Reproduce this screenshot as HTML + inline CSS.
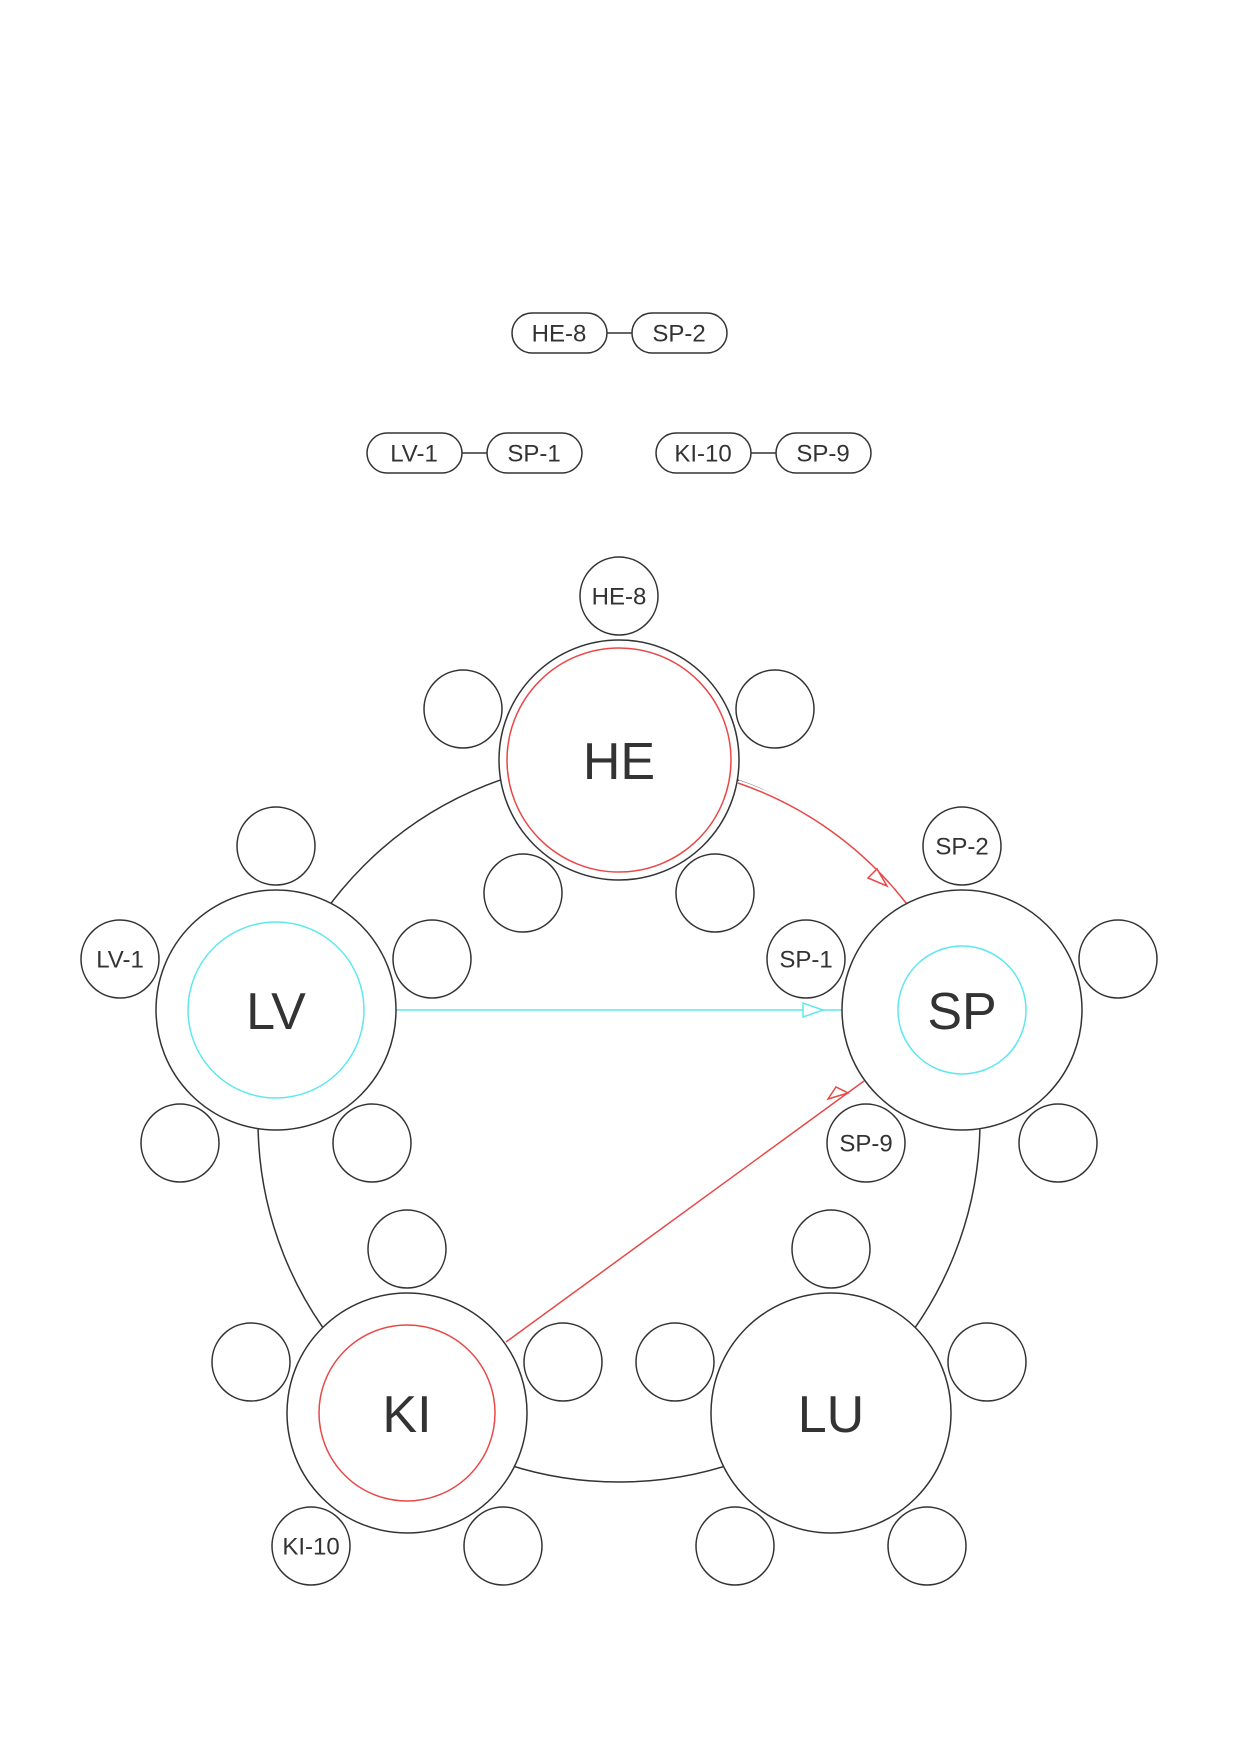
<!DOCTYPE html>
<html><head><meta charset="utf-8"><style>
html,body{margin:0;padding:0;background:#fff;}
svg{display:block;}
text{font-family:"Liberation Sans",Arial,sans-serif;fill:#333;text-anchor:middle;dominant-baseline:central;}
.s{font-size:24px;}
.b{font-size:52px;}
</style></head><body>
<svg width="1240" height="1754" viewBox="0 0 1240 1754" xmlns="http://www.w3.org/2000/svg">
<g fill="none" stroke="#333" stroke-width="1.5">
<circle cx="619" cy="1121" r="361"/>
<line x1="607" y1="333" x2="632" y2="333"/>
<line x1="462" y1="453" x2="487" y2="453"/>
<line x1="751" y1="453" x2="776" y2="453"/>
</g>
<g fill="#fff" stroke="#333" stroke-width="1.5">
<rect x="512" y="313" width="95" height="40" rx="20"/>
<rect x="632" y="313" width="95" height="40" rx="20"/>
<rect x="367" y="433" width="95" height="40" rx="20"/>
<rect x="487" y="433" width="95" height="40" rx="20"/>
<rect x="656" y="433" width="95" height="40" rx="20"/>
<rect x="776" y="433" width="95" height="40" rx="20"/>
</g>
<text class="s" x="559" y="334">HE-8</text>
<text class="s" x="679" y="334">SP-2</text>
<text class="s" x="414" y="454">LV-1</text>
<text class="s" x="534" y="454">SP-1</text>
<text class="s" x="703" y="454">KI-10</text>
<text class="s" x="823" y="454">SP-9</text>

<!-- red arc HE -> SP -->
<path d="M738 783 A361 361 0 0 1 906 903" fill="none" stroke="#fff" stroke-width="6"/>
<path d="M738 783 A361 361 0 0 1 906 903" fill="none" stroke="#e84848" stroke-width="1.5"/>
<polygon points="887,886 868,878 877,869" fill="#fff" stroke="#e84848" stroke-width="1.5"/>
<!-- cyan line LV -> SP -->
<line x1="396" y1="1010" x2="842" y2="1010" stroke="#5ee8ee" stroke-width="1.5"/>
<polygon points="823,1010 803,1003 803,1017" fill="#fff" stroke="#5ee8ee" stroke-width="1.5"/>
<!-- red line KI -> SP -->
<line x1="506" y1="1342" x2="864" y2="1081" stroke="#e84848" stroke-width="1.5"/>
<polygon points="848,1093 828,1099 836,1087" fill="#fff" stroke="#e84848" stroke-width="1.5"/>

<g fill="#fff" stroke="#333" stroke-width="1.5">
<circle cx="619" cy="760" r="120"/>
<circle cx="276" cy="1010" r="120"/>
<circle cx="962" cy="1010" r="120"/>
<circle cx="407" cy="1413" r="120"/>
<circle cx="831" cy="1413" r="120"/>
</g>
<circle cx="619" cy="760" r="112" fill="none" stroke="#e84848" stroke-width="1.5"/>
<circle cx="276" cy="1010" r="88" fill="none" stroke="#5ee8ee" stroke-width="1.5"/>
<circle cx="962" cy="1010" r="64" fill="none" stroke="#5ee8ee" stroke-width="1.5"/>
<circle cx="407" cy="1413" r="88" fill="none" stroke="#e84848" stroke-width="1.5"/>
<text class="b" x="619" y="762">HE</text>
<text class="b" x="276" y="1012">LV</text>
<text class="b" x="962" y="1012">SP</text>
<text class="b" x="407" y="1415">KI</text>
<text class="b" x="831" y="1415">LU</text>

<g fill="#fff" stroke="#333" stroke-width="1.5">
<circle cx="619" cy="596" r="39"/><circle cx="775" cy="709" r="39"/><circle cx="715" cy="893" r="39"/><circle cx="523" cy="893" r="39"/><circle cx="463" cy="709" r="39"/>
<circle cx="276" cy="846" r="39"/><circle cx="432" cy="959" r="39"/><circle cx="372" cy="1143" r="39"/><circle cx="180" cy="1143" r="39"/><circle cx="120" cy="959" r="39"/>
<circle cx="962" cy="846" r="39"/><circle cx="1118" cy="959" r="39"/><circle cx="1058" cy="1143" r="39"/><circle cx="866" cy="1143" r="39"/><circle cx="806" cy="959" r="39"/>
<circle cx="407" cy="1249" r="39"/><circle cx="563" cy="1362" r="39"/><circle cx="503" cy="1546" r="39"/><circle cx="311" cy="1546" r="39"/><circle cx="251" cy="1362" r="39"/>
<circle cx="831" cy="1249" r="39"/><circle cx="987" cy="1362" r="39"/><circle cx="927" cy="1546" r="39"/><circle cx="735" cy="1546" r="39"/><circle cx="675" cy="1362" r="39"/>
</g>
<text class="s" x="619" y="597">HE-8</text>
<text class="s" x="120" y="960">LV-1</text>
<text class="s" x="962" y="847">SP-2</text>
<text class="s" x="806" y="960">SP-1</text>
<text class="s" x="866" y="1144">SP-9</text>
<text class="s" x="311" y="1547">KI-10</text>
</svg>
</body></html>
